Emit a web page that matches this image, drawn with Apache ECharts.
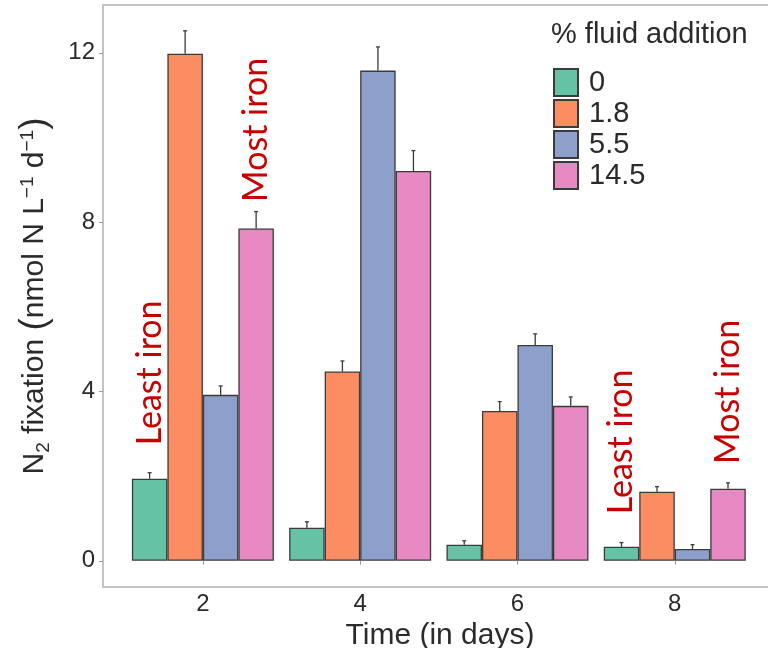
<!DOCTYPE html>
<html>
<head>
<meta charset="utf-8">
<script src="https://cdn.jsdelivr.net/npm/echarts@6/dist/echarts.min.js"></script>
<style>
  html, body { margin: 0; padding: 0; background: #ffffff; }
  #chart { width: 768px; height: 648px; }
</style>
</head>
<body>
<div id="chart"></div>
<script>
// Sampling days (x positions of the bar groups)
const days = [2, 4, 6, 8];
// Legend names: % fluid addition treatments
const treatments = ['0', '1.8', '5.5', '14.5'];
// Mean N2 fixation (nmol N L-1 d-1) per treatment, by day
const fix0 = [1.94, 0.78, 0.38, 0.33];
const fix18 = [11.98, 4.47, 3.54, 1.63];
const fix55 = [3.92, 11.58, 5.10, 0.28];
const fix145 = [7.85, 9.21, 3.66, 1.70];
// Standard error (upper whisker only)
const err0 = [0.14, 0.14, 0.09, 0.10];
const err18 = [0.54, 0.25, 0.22, 0.12];
const err55 = [0.21, 0.56, 0.26, 0.10];
const err145 = [0.40, 0.48, 0.21, 0.14];
// Axis ticks
const yTicks = [0, 4, 8, 12];
// Red annotations: text, day, bar slot within the group, centre value on y
const noteText = ['Least iron', 'Most iron', 'Least iron', 'Most iron'];
const noteDay = [2, 2, 8, 8];
const noteSlot = [-1.5, 1.5, -1.5, 1.5];
const noteY = [4.44, 10.18, 2.81, 3.99];

const colors = ['#66c2a5', '#fc8d62', '#8da0cb', '#e78ac3'];
const means = [fix0, fix18, fix55, fix145];
const errs = [err0, err18, err55, err145];

const DAY_STEP = 2;        // spacing between sampled days
const BAR_FRAC = 0.2257;   // each bar's share of one day-step band
const FONT = '"Liberation Sans", Arial, sans-serif';
const INK = '#2b2b2b';

const chart = echarts.init(document.getElementById('chart'), null, { renderer: 'canvas' });

const barSeries = treatments.map((name, k) => ({
  name: name,
  type: 'bar',
  barWidth: (BAR_FRAC * 100) + '%',
  barGap: '0%',
  itemStyle: { color: colors[k], borderColor: '#3b3b3b', borderWidth: 1.3 },
  data: days.map((d, i) => [d, means[k][i]]),
  z: 3
}));

const errSeries = treatments.map((name, k) => ({
  name: name + ' se',
  type: 'custom',
  z: 2,
  data: days.map((d, i) => [d, means[k][i], errs[k][i]]),
  renderItem: function (params, api) {
    const d = api.value(0), m = api.value(1), e = api.value(2);
    const base = api.coord([d, m]);
    const top = api.coord([d, m + e]);
    const bw = api.size([DAY_STEP, 0])[0] * BAR_FRAC;
    const x = base[0] + (k - 1.5) * bw;
    const ls = { stroke: '#3b3b3b', lineWidth: 1.3 };
    return {
      type: 'group',
      children: [
        { type: 'line', shape: { x1: x, y1: base[1], x2: x, y2: top[1] }, style: ls },
        { type: 'line', shape: { x1: x - 2, y1: top[1], x2: x + 2, y2: top[1] }, style: ls }
      ]
    };
  }
}));

chart.setOption({
  animation: false,
  backgroundColor: '#ffffff',
  title: {
    text: '% fluid addition',
    left: 546, top: 15,
    textStyle: { fontFamily: FONT, fontSize: 29, fontWeight: 'normal', color: INK }
  },
  legend: {
    data: treatments,
    orient: 'vertical',
    left: 548, top: 63,
    icon: 'rect',
    itemWidth: 24, itemHeight: 27, itemGap: 2,
    selectedMode: false,
    textStyle: { fontFamily: FONT, fontSize: 29, color: INK, lineHeight: 27, padding: [0, 0, 0, 6] }
  },
  grid: {
    left: 103, top: 5, width: 674, height: 582,
    outerBoundsMode: 'none',
    containLabel: false,
    show: true, borderColor: '#c4c4c4', borderWidth: 2, backgroundColor: '#ffffff'
  },
  xAxis: {
    type: 'value',
    min: 0.73, max: 9.3,
    name: 'Time (in days)',
    nameLocation: 'middle',
    nameGap: 29,
    nameTextStyle: { fontFamily: FONT, fontSize: 30, color: INK },
    axisLine: { show: false },
    axisTick: { show: true, customValues: days, length: 4, lineStyle: { color: '#999' } },
    axisLabel: { customValues: days, fontFamily: FONT, fontSize: 24, color: INK, margin: 5 },
    splitLine: { show: false }
  },
  yAxis: {
    type: 'value',
    min: -0.62, max: 13.13,
    name: '{t|N}{sub|2}{t| fixation }{par|(}{t|nmol N L}{sup|−1}{t| d}{sup|−1}{par|)}',
    nameLocation: 'middle',
    nameGap: 48,
    nameTextStyle: {
      fontFamily: FONT, fontSize: 30, color: INK,
      rich: {
        t: { fontFamily: FONT, fontSize: 30, color: INK, lineHeight: 40, verticalAlign: 'middle' },
        sub: { fontFamily: FONT, fontSize: 19, color: INK, lineHeight: 19, verticalAlign: 'bottom', padding: [0, 0, 2, 0] },
        sup: { fontFamily: FONT, fontSize: 19, color: INK, lineHeight: 19, verticalAlign: 'top', padding: [3, 0, 0, 0] },
        par: { fontFamily: FONT, fontSize: 37, color: INK, lineHeight: 40, verticalAlign: 'middle' }
      }
    },
    axisLine: { show: false },
    axisTick: { show: true, customValues: yTicks, length: 4, lineStyle: { color: '#999' } },
    axisLabel: { customValues: yTicks, fontFamily: FONT, fontSize: 24, color: INK, margin: 8 },
    splitLine: { show: false }
  },
  series: barSeries.concat(errSeries)
});

// Rotated red notes, anchored in data coordinates over the first/last bar of a group
const slotWidth = BAR_FRAC * DAY_STEP;
const notes = noteText.map((txt, i) => {
  const p = chart.convertToPixel({ gridIndex: 0 }, [noteDay[i] + noteSlot[i] * slotWidth, noteY[i]]);
  return {
    type: 'text',
    x: p[0], y: p[1],
    rotation: Math.PI / 2,
    z: 10,
    style: {
      text: txt,
      fill: '#c80000',
      fontFamily: 'Lato, "Open Sans", sans-serif',
      fontSize: 34,
      align: 'center',
      verticalAlign: 'middle'
    }
  };
});
chart.setOption({ graphic: notes });
</script>
</body>
</html>
